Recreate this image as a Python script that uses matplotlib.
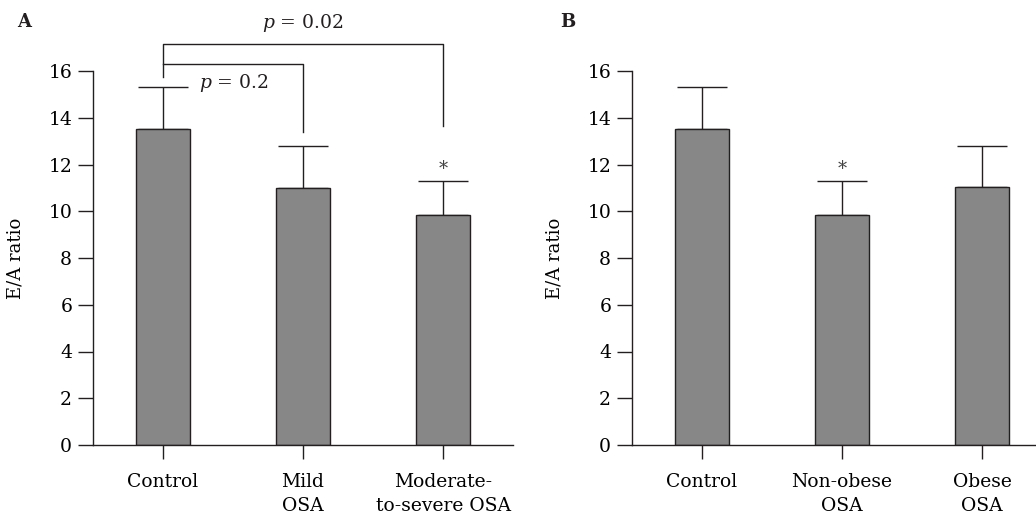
import matplotlib
matplotlib.use('Agg')
import matplotlib.pyplot as plt

# panel A
cats_a = ['Control', 'Mild\nOSA', 'Moderate-\nto-severe OSA']
mean_a = [13.5, 11.0, 9.85]
err_a = [1.8, 1.8, 1.45]

# panel B
cats_b = ['Control', 'Non-obese\nOSA', 'Obese\nOSA']
mean_b = [13.5, 9.85, 11.05]
err_b = [1.8, 1.45, 1.75]

yticks = [0, 2, 4, 6, 8, 10, 12, 14, 16]

INK = '#231f20'
BAR = '#878787'

plt.rcParams['font.family'] = 'DejaVu Serif'
plt.rcParams['mathtext.fontset'] = 'dejavuserif'
plt.rcParams['text.color'] = INK

fig = plt.figure(figsize=(10.36, 5.16), dpi=100)
ax_a = fig.add_axes([93 / 1036, 71 / 516, 420 / 1036, 374 / 516])
ax_b = fig.add_axes([632 / 1036, 71 / 516, 420 / 1036, 374 / 516])


def draw_panel(ax, cats, means, errs):
    x = list(range(len(cats)))
    ax.bar(x, means, width=0.38, color=BAR, edgecolor=INK, linewidth=1.0, zorder=2)
    ax.errorbar(x, means, yerr=[[0] * len(errs), errs], fmt='none',
                ecolor=INK, elinewidth=1.0, capsize=18, capthick=1.0, zorder=1)
    ax.set_xlim(-0.5, 2.5)
    ax.set_ylim(0, 16)
    ax.set_xticks(x)
    ax.set_xticklabels(cats, fontsize=13.5, linespacing=1.45)
    ax.set_yticks(yticks)
    ax.tick_params(axis='y', labelsize=13.5, length=11, width=1.0, color=INK, pad=4)
    ax.tick_params(axis='x', length=10, width=1.0, color=INK, pad=10)
    for s in ['top', 'right']:
        ax.spines[s].set_visible(False)
    for s in ['left', 'bottom']:
        ax.spines[s].set_color(INK)
        ax.spines[s].set_linewidth(1.0)
    ax.set_ylabel('E/A ratio', fontsize=13)
    ax.yaxis.set_label_coords(-0.162, 0.5)


draw_panel(ax_a, cats_a, mean_a, err_a)
draw_panel(ax_b, cats_b, mean_b, err_b)

# significance brackets on A
kw = dict(color=INK, lw=1.0, clip_on=False)
ax_a.plot([0, 0, 2, 2], [15.75, 17.17, 17.17, 13.65], **kw)
ax_a.plot([0, 1, 1], [16.32, 16.32, 13.37], **kw)
ax_a.text(1.0, 18.07, '$p$ = 0.02', fontsize=13.5, ha='center', va='center')
ax_a.text(0.26, 15.47, '$p$ = 0.2', fontsize=13.5, ha='left', va='center')

# asterisks
ax_a.text(2, mean_a[2] + err_a[2] + 0.12, '*', fontsize=13, ha='center', va='bottom', color='#444444')
ax_b.text(1, mean_b[1] + err_b[1] + 0.12, '*', fontsize=13, ha='center', va='bottom', color='#444444')

fig.text(17 / 1036, 1 - 22 / 516, 'A', fontsize=13, fontweight='bold', va='center')
fig.text(560 / 1036, 1 - 22 / 516, 'B', fontsize=13, fontweight='bold', va='center')

fig.savefig('out.png', dpi=100)
